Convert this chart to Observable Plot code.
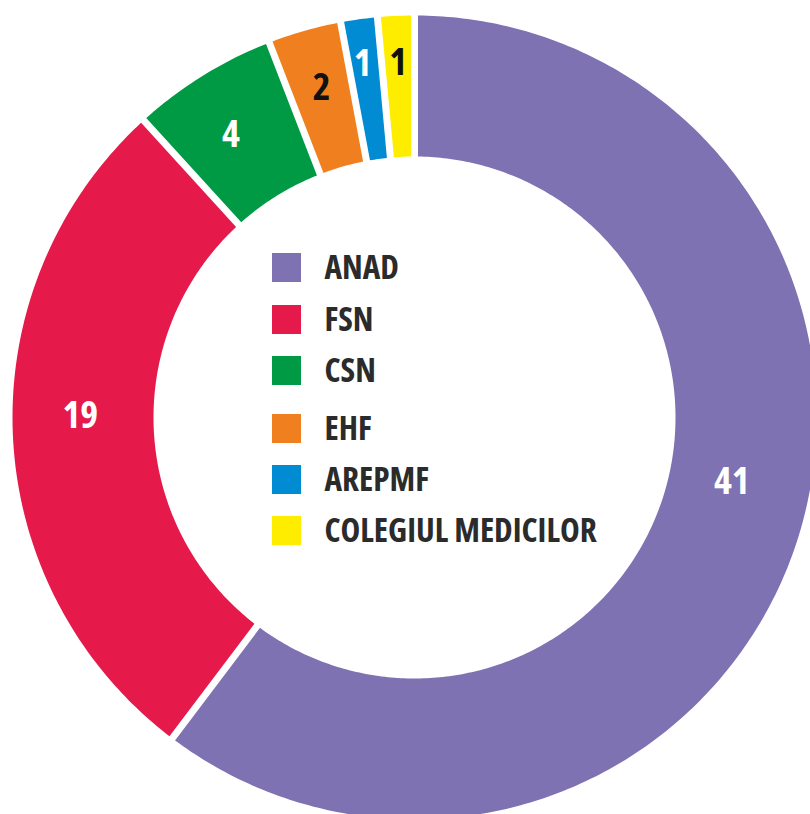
<!DOCTYPE html>
<html>
<head>
<meta charset="utf-8">
<script src="https://cdn.jsdelivr.net/npm/d3@7"></script>
<script src="https://cdn.jsdelivr.net/npm/@observablehq/plot@0.6"></script>
<style>
  html, body { margin: 0; padding: 0; background: #fff; overflow: hidden; }
  #chart svg { display: block; }
</style>
</head>
<body>
<div id="chart"></div>
<script>
// ---- data ----
const categories = ["ANAD", "FSN", "CSN", "EHF", "AREPMF", "COLEGIUL MEDICILOR"];
const values = [41, 19, 4, 2, 1, 1];
const colors = ["#7e72b2", "#e5194a", "#009a45", "#f0801f", "#008bd2", "#ffed00"];
const labelColors = ["#ffffff", "#ffffff", "#ffffff", "#111111", "#ffffff", "#111111"];

// ---- layout ----
const W = 810, H = 814;
const cx = 414, cy = 417;          // pixel centre of the ring
const R = 402, r0 = 261;           // outer / inner radius (px)
const gap = 7;                     // white gap width between slices (px)
const labelNudge = [[3, -41], [-3, -17], [-9, -1], [-2, -11], [-6, -25], [-1, -24]];
const legendRows = [267.5, 319.5, 370.5, 428.5, 479.5, 530.5];
const font = "'Open Sans', 'Liberation Sans Narrow', sans-serif";

const pie = d3.pie().sort(null).value(d => d.value).startAngle(0).endAngle(2 * Math.PI);
const rows = categories.map((name, i) => ({name, value: values[i], i}));
const arcs = pie(rows);

// polygon vertices for each slice with parallel gaps
const poly = [];
const g = gap / 2;
for (const a of arcs) {
  const n = Math.max(8, Math.ceil((a.endAngle - a.startAngle) * 80));
  const dO = Math.asin(g / R), dI = Math.asin(g / r0);
  const pts = [];
  for (let k = 0; k <= n; k++) {
    const t = a.startAngle + dO + (a.endAngle - a.startAngle - 2 * dO) * k / n;
    pts.push([R * Math.sin(t), R * Math.cos(t)]);
  }
  for (let k = n; k >= 0; k--) {
    const t = a.startAngle + dI + (a.endAngle - a.startAngle - 2 * dI) * k / n;
    pts.push([r0 * Math.sin(t), r0 * Math.cos(t)]);
  }
  for (const [x, y] of pts) poly.push({name: a.data.name, x, y});
}

// labels at centroids
const rm = (R + r0) / 2;
const labels = arcs.map((a, i) => {
  const t = (a.startAngle + a.endAngle) / 2;
  return {
    text: String(a.data.value),
    x: rm * Math.sin(t) + labelNudge[i][0],
    y: rm * Math.cos(t) - labelNudge[i][1],
    color: labelColors[i]
  };
});

// legend
const sq = 29, legX = 272 - cx, legTextX = 324 - cx;
const legend = categories.map((name, i) => {
  const py = legendRows[i];
  return {name, x1: legX, x2: legX + sq, y1: cy - (py - sq / 2), y2: cy - (py + sq / 2), tx: legTextX, ty: cy - py};
});

const chart = Plot.plot({
  width: W, height: H,
  margin: 0,
  x: {domain: [-cx, W - cx], axis: null},
  y: {domain: [cy - H, cy], axis: null},
  color: {domain: categories, range: colors, legend: false},
  style: {fontFamily: font, background: "#fff"},
  marks: [
    Plot.line(poly, {x: "x", y: "y", z: "name", fill: "name", stroke: "none", curve: "linear-closed"}),
    Plot.text(labels, {x: "x", y: "y", text: "text", fill: "color", fontSize: 38, fontWeight: 700,
      textAnchor: "middle", lineAnchor: "middle", fontFamily: font}),
    Plot.rect(legend, {x1: "x1", x2: "x2", y1: "y1", y2: "y2", fill: "name"}),
    Plot.text(legend, {x: "tx", y: "ty", text: "name", fill: "#2b2b2b", fontSize: 33.3, fontWeight: 700,
      textAnchor: "start", lineAnchor: "middle", fontFamily: font})
  ]
});
chart.style.fontStretch = "condensed";
document.getElementById("chart").append(chart);
</script>
</body>
</html>
